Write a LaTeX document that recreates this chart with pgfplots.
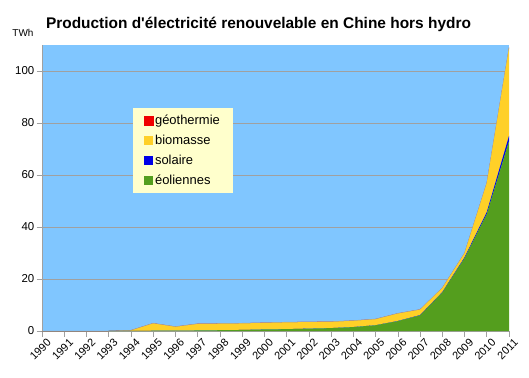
\documentclass[border=0pt]{standalone}
\usepackage{pgfplots}
\pgfplotsset{compat=1.18}
\usepackage{fontspec}
\setmainfont{Liberation Sans}[Ligatures=TeXOff]
\definecolor{bgblue}{RGB}{128,198,255}
\definecolor{windgreen}{RGB}{84,158,30}
\definecolor{bioyellow}{RGB}{255,208,40}
\definecolor{solblue}{RGB}{0,0,230}
\definecolor{geored}{RGB}{240,0,0}
\definecolor{gridgray}{RGB}{160,160,160}
\definecolor{legbg}{RGB}{255,255,204}
\begin{document}
\begin{tikzpicture}
\useasboundingbox (-42bp,-47bp) rectangle (487bp,331bp);
\begin{axis}[
  at={(0,0)}, anchor=origin,
  scale only axis, width=467bp, height=286bp,
  xmin=1990, xmax=2011, ymin=0, ymax=110,
  stack plots=y,
  axis background/.style={fill=bgblue},
  axis lines=left, axis line style={gridgray, -},
  xtick={1990,...,2011},
  xticklabel style={rotate=45, anchor=north east, font=\fontsize{11}{12}\selectfont, inner sep=1pt, xshift=3pt, yshift=-3pt},
  xticklabel={\pgfmathprintnumber[1000 sep={}]{\tick}},
  ytick={0,20,...,100},
  yticklabel style={font=\fontsize{11.5}{12}\selectfont, inner sep=2pt},
  /pgf/number format/assume math mode=true,
  ymajorgrids, grid style={gridgray, line width=0.5pt},
  tick style={gridgray, line width=0.5pt},
  tick align=outside, major tick length=5.5bp,
  clip=false,
  legend style={at={(91bp,138bp)}, anchor=south west, fill=legbg, draw=none,
    nodes={font=\fontsize{13}{15}\selectfont, inner sep=2pt}, row sep=5pt, inner xsep=11pt, inner ysep=5pt},
  legend cell align=left,
  reverse legend,
]
\addplot[draw=none, fill=windgreen, legend image code/.code={\fill[windgreen] (0bp,-4.25bp) rectangle (8.5bp,4.25bp);}] coordinates {
(1990,0) (1991,0) (1992,0) (1993,0) (1994,0.05) (1995,0.1) (1996,0.15) (1997,0.2) (1998,0.3) (1999,0.4) (2000,0.6) (2001,0.7) (2002,0.9) (2003,1.1) (2004,1.5) (2005,2.2) (2006,3.8) (2007,6.0) (2008,14.8) (2009,28) (2010,45) (2011,73)
} \closedcycle;
\addlegendentry{éoliennes}
\addplot[draw=none, fill=solblue, legend image code/.code={\fill[solblue] (0bp,-4.25bp) rectangle (8.5bp,4.25bp);}] coordinates {
(1990,0) (1991,0) (1992,0) (1993,0) (1994,0) (1995,0) (1996,0) (1997,0) (1998,0) (1999,0) (2000,0.01) (2001,0.01) (2002,0.02) (2003,0.02) (2004,0.02) (2005,0.02) (2006,0.05) (2007,0.1) (2008,0.15) (2009,0.3) (2010,0.7) (2011,2.0)
} \closedcycle;
\addlegendentry{solaire}
\addplot[draw=none, fill=bioyellow, legend image code/.code={\fill[bioyellow] (0bp,-4.25bp) rectangle (8.5bp,4.25bp);}] coordinates {
(1990,0) (1991,0) (1992,0) (1993,0) (1994,0.15) (1995,2.8) (1996,1.45) (1997,2.5) (1998,2.5) (1999,2.5) (2000,2.5) (2001,2.6) (2002,2.5) (2003,2.4) (2004,2.4) (2005,2.3) (2006,2.85) (2007,2.1) (2008,1.55) (2009,1.6) (2010,11.2) (2011,33.9)
} \closedcycle;
\addlegendentry{biomasse}
\addplot[draw=gridgray, line width=0.4pt, fill=geored, legend image code/.code={\fill[geored] (0bp,-4.25bp) rectangle (8.5bp,4.25bp);}] coordinates {
(1990,0) (1991,0) (1992,0) (1993,0) (1994,0.1) (1995,0.1) (1996,0.1) (1997,0.1) (1998,0.1) (1999,0.1) (2000,0.1) (2001,0.1) (2002,0.1) (2003,0.1) (2004,0.1) (2005,0.1) (2006,0.1) (2007,0.1) (2008,0.1) (2009,0.1) (2010,0.1) (2011,0.1)
} \closedcycle;
\addlegendentry{géothermie}
\end{axis}
\node[font=\bfseries\fontsize{15.5}{17}\selectfont, anchor=base] at (216.5bp,302bp) {Production d'électricité renouvelable en Chine hors hydro};
\node[font=\fontsize{10}{11}\selectfont, anchor=base] at (-19bp,294bp) {TWh};
\end{tikzpicture}
\end{document}
